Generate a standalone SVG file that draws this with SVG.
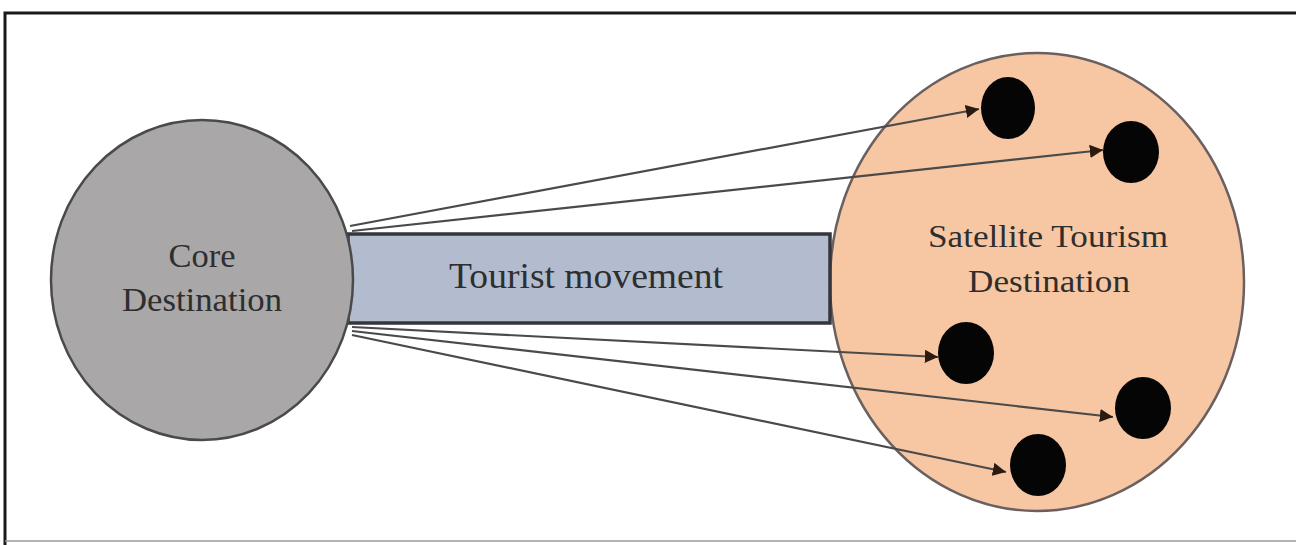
<svg xmlns="http://www.w3.org/2000/svg" width="1296" height="545" viewBox="0 0 1296 545">
<style>
.lbl{font-family:"Liberation Serif","Times New Roman",serif;fill:#2e2e2e;text-anchor:middle}
.conn{stroke:#4a4a4a;stroke-width:2.2;fill:none}
.dot{fill:#050505}
</style>
<defs>
<marker id="ah" viewBox="0 0 10 10" refX="10" refY="5" markerWidth="6" markerHeight="6" orient="auto" markerUnits="strokeWidth">
<path d="M0,0 L10,5 L0,10 z" fill="#2a1a10"/>
</marker>
</defs>
<rect x="0" y="0" width="1296" height="545" fill="#ffffff"/>
<path d="M5,545 L5,13 L1296,13" fill="none" stroke="#1a1a1a" stroke-width="3"/>
<line x1="5" y1="541" x2="1296" y2="541" stroke="#9a9a9a" stroke-width="1.5"/>
<g id="satellite">
<ellipse cx="1037" cy="282" rx="207" ry="229" fill="#f7c7a3" stroke="#6b6060" stroke-width="2.5"/>
<text class="lbl" x="1048" y="247" font-size="31" textLength="240" lengthAdjust="spacingAndGlyphs">Satellite Tourism</text>
<text class="lbl" x="1049" y="292" font-size="31" textLength="162" lengthAdjust="spacingAndGlyphs">Destination</text>
</g>
<g id="movement">
<rect x="348" y="234" width="482" height="89" fill="#b3bccf" stroke="#34363c" stroke-width="3.5"/>
<text class="lbl" x="586" y="288" font-size="36" textLength="274" lengthAdjust="spacingAndGlyphs" fill="#262a33">Tourist movement</text>
</g>
<g id="core">
<ellipse cx="202" cy="280" rx="151" ry="160" fill="#a9a7a8" stroke="#4a4a4a" stroke-width="2.5"/>
<text class="lbl" x="202" y="267" font-size="33" textLength="67" lengthAdjust="spacingAndGlyphs">Core</text>
<text class="lbl" x="202" y="311" font-size="33" textLength="160" lengthAdjust="spacingAndGlyphs">Destination</text>
</g>
<g id="connectors">
<line class="conn" x1="350" y1="226" x2="979" y2="109" marker-end="url(#ah)"/>
<line class="conn" x1="352" y1="231" x2="1103" y2="150" marker-end="url(#ah)"/>
<line class="conn" x1="352" y1="327" x2="938" y2="357" marker-end="url(#ah)"/>
<line class="conn" x1="352" y1="331" x2="1113" y2="417" marker-end="url(#ah)"/>
<line class="conn" x1="352" y1="335" x2="1006" y2="472" marker-end="url(#ah)"/>
</g>
<g id="dot1"><ellipse class="dot" cx="1008" cy="108" rx="27" ry="31"/></g>
<g id="dot2"><ellipse class="dot" cx="1131" cy="152" rx="28" ry="31"/></g>
<g id="dot3"><ellipse class="dot" cx="966" cy="353" rx="28" ry="31"/></g>
<g id="dot4"><ellipse class="dot" cx="1143" cy="408" rx="28" ry="31"/></g>
<g id="dot5"><ellipse class="dot" cx="1038" cy="465" rx="28" ry="31"/></g>
</svg>
